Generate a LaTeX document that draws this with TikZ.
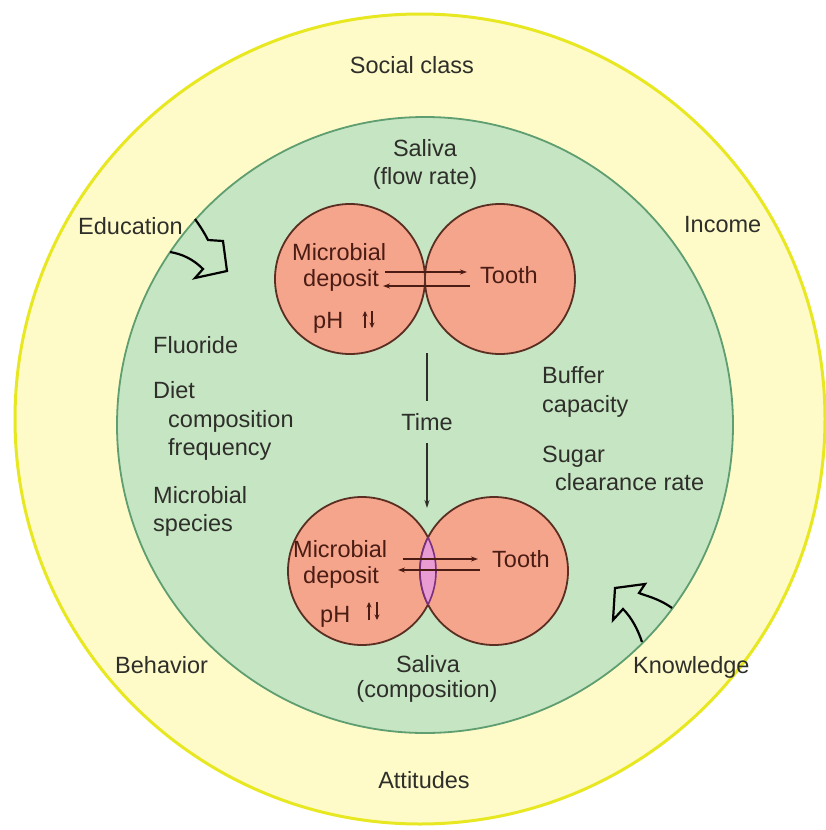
\documentclass[tikz,border=0pt]{standalone}
\usepackage{fontspec}
\setmainfont{Liberation Sans}
\usetikzlibrary{arrows.meta}
\definecolor{outerfill}{HTML}{FFFBC9}
\definecolor{outerline}{HTML}{E8E822}
\definecolor{greenfill}{HTML}{C6E5C2}
\definecolor{greenline}{HTML}{5E9E70}
\definecolor{salmon}{HTML}{F5A58B}
\definecolor{circline}{HTML}{5A2E22}
\definecolor{lensfill}{HTML}{E89CD2}
\definecolor{lensline}{HTML}{7A3080}
\definecolor{txt}{HTML}{2E2E2A}
\definecolor{ctxt}{HTML}{4A1C14}
\begin{document}
\begin{tikzpicture}[x=1pt,y=-1pt,
  lbl/.style={font=\fontsize{23.5}{23.5}\selectfont, text=txt, inner sep=0pt},
  lw/.style={lbl, anchor=base west},
  lc/.style={lbl, anchor=base},
  clw/.style={lw, text=ctxt},
  disc/.style={circle, draw=circline, line width=1.8pt, fill=salmon, inner sep=0pt},
  flow/.style={draw=ctxt, line width=1.3pt, -{Stealth[length=7pt,width=5pt]}},
  phar/.style={draw=ctxt, line width=1.5pt, -{Stealth[length=5.5pt,width=5pt]}},
  blockarrow/.style={draw=black, line width=2.2pt, line join=miter}
]
\useasboundingbox (0,0) rectangle (826,830);
\fill[white] (0,0) rectangle (826,830);
% outer and inner rings
\node[circle, draw=outerline, line width=3pt, fill=outerfill, minimum size=810pt, inner sep=0pt] (outer) at (420,419) {};
\node[circle, draw=greenline, line width=1.8pt, fill=greenfill, minimum size=616pt, inner sep=0pt] (inner) at (425,425) {};
% top discs
\node[disc, minimum size=150pt] (tl) at (350,279) {};
\node[disc, minimum size=150pt] (tr) at (500,279) {};
% bottom discs
\node[disc, minimum size=148pt] (bl) at (362,571) {};
\node[disc, minimum size=148pt] (br) at (494,571) {};
% lens
\begin{scope}
  \clip (362,571) circle[radius=74pt];
  \fill[lensfill] (494,571) circle[radius=74pt];
  \draw[lensline, line width=1.6pt] (494,571) circle[radius=74pt];
\end{scope}
\begin{scope}
  \clip (494,571) circle[radius=74pt];
  \draw[lensline, line width=1.6pt] (362,571) circle[radius=74pt];
\end{scope}
% outer ring labels
\node[lc] (social) at (412,73) {Social class};
\node[lw] (edu) at (78,234) {Education};
\node[lw] (income) at (684,232) {Income};
\node[lw] (behavior) at (115,673) {Behavior};
\node[lw] (knowledge) at (633,673) {Knowledge};
\node[lc] (attitudes) at (424,788) {Attitudes};
% saliva labels
\node[lc] (sal1) at (425,156) {Saliva};
\node[lc] (sal2) at (425,184) {(flow rate)};
\node[lc] (bsal1) at (428,672) {Saliva};
\node[lc] (bsal2) at (427,697) {(composition)};
% left column
\node[lw] (fluoride) at (153,353) {Fluoride};
\node[lw] (diet) at (153,398) {Diet};
\node[lw] (comp) at (168,427) {composition};
\node[lw] (freq) at (168,455) {frequency};
\node[lw] (mspec) at (153,503) {Microbial};
\node[lw] (species) at (153,531) {species};
% right column
\node[lw] (buffer) at (542,383) {Buffer};
\node[lw] (capacity) at (542,412) {capacity};
\node[lw] (sugar) at (542,462) {Sugar};
\node[lw] (clear) at (555,490) {clearance rate};
% top disc texts
\node[clw] (tmicro) at (292,260) {Microbial};
\node[clw] (tdep) at (303,286) {deposit};
\node[clw] (tph) at (313,328) {pH};
\node[clw] (ttooth) at (480,283) {Tooth};
% bottom disc texts
\node[clw] (bmicro) at (293,557) {Microbial};
\node[clw] (bdep) at (303,583) {deposit};
\node[clw] (bph) at (320,622) {pH};
\node[clw] (btooth) at (492,567) {Tooth};
% exchange arrows (top)
\coordinate (ta1) at (385,272); \coordinate (ta2) at (467,272);
\coordinate (tb1) at (470,286); \coordinate (tb2) at (383,286);
\draw[flow] (ta1) -- (ta2);
\draw[flow] (tb1) -- (tb2);
% exchange arrows (bottom)
\coordinate (ba1) at (403,559); \coordinate (ba2) at (478,559);
\coordinate (bb1) at (480,570); \coordinate (bb2) at (398,570);
\draw[flow] (ba1) -- (ba2);
\draw[flow] (bb1) -- (bb2);
% pH arrows
\coordinate (tu1) at (365,328); \coordinate (tu2) at (365,311);
\coordinate (td1) at (372,311); \coordinate (td2) at (372,328);
\draw[phar] (tu1) -- (tu2);
\draw[phar] (td1) -- (td2);
\coordinate (bu1) at (369,620); \coordinate (bu2) at (369,602);
\coordinate (bd1) at (377,602); \coordinate (bd2) at (377,620);
\draw[phar] (bu1) -- (bu2);
\draw[phar] (bd1) -- (bd2);
% time
\node[lbl, inner ysep=12pt] (time) at (427,422) {Time};
\coordinate (t0) at (427,353);
\coordinate (t1) at (427,508);
\draw[txt, line width=1.2pt] (t0) -- (time.north);
\draw[txt, line width=1.2pt, -{Stealth[length=8pt,width=5pt]}] (time.south) -- (t1);
% block arrows
\draw[blockarrow] (195,219) .. controls (202,229) and (205,234) .. (208,240)
  -- (223,241) -- (227,271) -- (195,278) -- (203,269)
  .. controls (193,259) and (182,254) .. (170,252);
\draw[blockarrow] (672,608) .. controls (658,598) and (646,596) .. (639,593)
  -- (645,584) -- (615,588) -- (613,620) -- (623,609)
  .. controls (632,618) and (638,630) .. (642,642);
\end{tikzpicture}
\end{document}
